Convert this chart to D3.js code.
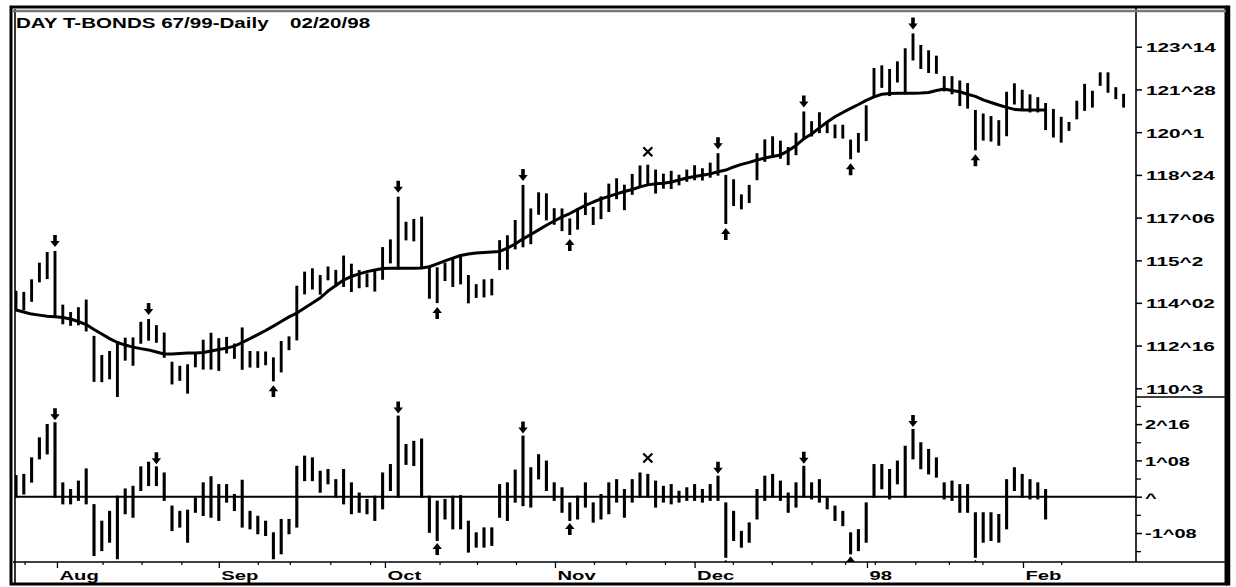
<!DOCTYPE html>
<html><head><meta charset="utf-8">
<script src="https://cdn.jsdelivr.net/npm/d3@7"></script>
<style>
body{margin:0;background:#fff}
svg{display:block}
text{font-family:"Liberation Sans",Arial,sans-serif;font-weight:bold;fill:#000}
</style>
</head><body>
<svg id="c" width="1236" height="587"></svg>
<script>
// ---- data ----
const high=[113.86,113.82,114.31,114.96,115.38,115.42,113.32,113.03,113.22,113.52,
112.10,111.35,111.51,111.88,112.03,112.04,112.65,112.76,112.52,112.23,
111.09,110.93,110.99,111.41,111.95,112.22,112.01,112.06,111.80,112.43,
111.51,111.50,111.49,111.26,111.90,112.08,114.06,114.61,114.74,114.48,
114.81,114.68,115.24,114.92,114.67,114.54,114.71,115.57,115.87,117.54,
116.56,116.67,116.76,114.84,114.78,114.96,115.18,115.30,114.48,114.12,
114.31,114.33,115.84,116.03,116.63,118.00,117.08,117.71,117.67,117.09,
117.08,116.69,117.08,117.70,117.14,117.55,118.05,118.26,118.01,118.43,
118.76,118.79,118.60,118.44,118.55,118.40,118.60,118.77,118.65,118.87,
119.24,118.39,118.22,117.63,118.00,119.24,119.78,119.90,119.73,119.48,
120.04,120.87,120.49,120.84,120.44,120.36,120.35,119.77,120.03,121.11,
122.57,122.67,122.53,122.83,123.34,123.92,123.47,123.26,123.05,122.25,
122.25,122.08,121.98,120.93,120.79,120.69,120.53,121.64,121.97,121.72,
121.54,121.43,121.20,120.97,120.66,120.46,121.29,121.95,121.68,122.40,
122.40,121.82,121.56];
const low=[113.15,113.18,113.51,114.27,114.40,112.89,112.63,112.57,112.59,112.35,
110.38,110.37,110.48,109.76,111.21,111.01,111.87,111.99,111.91,111.32,
110.28,110.42,109.92,110.95,110.86,110.86,110.81,111.49,111.28,110.85,
110.94,110.93,111.03,110.40,110.75,111.62,112.00,113.80,113.99,113.79,
114.35,114.11,114.09,113.89,114.04,114.08,113.91,114.37,115.01,114.78,
115.91,115.87,114.79,113.63,113.46,114.32,114.09,114.19,113.45,113.66,
113.68,113.76,114.75,114.77,115.56,115.64,115.76,116.91,116.69,116.52,
116.27,116.12,116.33,116.90,116.51,116.74,117.02,117.52,117.09,117.69,
117.96,118.04,117.74,117.93,117.92,118.06,118.20,118.26,118.25,118.36,
118.44,116.55,117.25,117.12,117.37,118.26,118.98,119.15,119.10,118.85,
119.24,119.84,119.97,120.10,120.10,119.90,119.89,119.08,119.34,119.79,
121.48,121.87,121.55,122.08,121.62,122.94,122.61,122.45,122.42,121.73,
121.62,121.16,121.06,119.43,119.81,119.77,119.61,119.98,121.22,120.97,
120.91,120.91,120.22,119.93,119.73,120.19,120.64,120.97,121.10,121.95,
121.68,121.43,121.10];
const ma=[113.15,113.07,112.99,112.95,112.91,112.89,112.86,112.80,112.70,112.58,
112.39,112.21,112.03,111.88,111.78,111.70,111.64,111.59,111.51,111.43,
111.43,111.45,111.47,111.47,111.49,111.55,111.61,111.66,111.74,111.88,
112.03,112.19,112.35,112.52,112.70,112.88,113.03,113.23,113.42,113.62,
113.89,114.11,114.32,114.46,114.56,114.65,114.71,114.77,114.78,114.78,
114.78,114.78,114.79,114.84,114.95,115.07,115.18,115.28,115.34,115.38,
115.40,115.42,115.44,115.57,115.73,115.93,116.10,116.28,116.46,116.63,
116.79,116.92,117.08,117.24,117.37,117.49,117.59,117.69,117.78,117.86,
117.96,118.04,118.08,118.10,118.15,118.23,118.31,118.37,118.42,118.47,
118.55,118.62,118.74,118.84,118.92,119.01,119.09,119.15,119.21,119.37,
119.58,119.84,120.03,120.27,120.50,120.70,120.87,121.03,121.18,121.34,
121.48,121.58,121.61,121.62,121.62,121.62,121.63,121.65,121.73,121.79,
121.73,121.68,121.58,121.50,121.36,121.26,121.16,121.07,120.99,120.97,
120.97,120.97,120.97];
const priceTicks=[123.44,121.77,120.10,118.43,116.76,115.09,113.43,111.76,110.09];
const priceLabels=["123^14","121^28","120^1","118^24","117^06","115^2","114^02","112^16","110^3"];
const oscTicks=[2.5,1.25,0,-1.25];
const oscLabels=["2^16","1^08","^","-1^08"];
const oscMinorTicks=[3.125,1.875,0.625,-0.625,-1.875];
const monthLabels=["Aug","Sep","Oct","Nov","Dec","98","Feb"];
const monthPos=[5.25,26,47.3,69.1,87,109.1,129.1];
const weekPos=[1.1,11.1,16.1,21.2,31,35.1,40.3,45.4,54.3,59.1,64.1,74.1,78.2,83.2,91.9,96.9,102,106.3,110.1,115.3,119.6,123.9,134];
const sellBars=[5,17,49,65,90,101,115];
const buyBars=[13,33,54,71,91,107,123];
const oscSellBars=[5,18,49,65,90,101,115];
const oscBuyBars=[13,33,54,71,91,107,123];
const xMarkBars=[81];
const title1="DAY T-BONDS 67/99-Daily", title2="02/20/98";

// ---- layout ----
const svg=d3.select("#c");
const L=15, R=1136, UT=12, UB=397, LB=562;
const x=d3.scaleLinear().domain([0,142]).range([16,1123.6]);
const yP=d3.scaleLinear().domain([110.09,123.44]).range([388.3,46.7]);
const yO=d3.scaleLinear().domain([-1.25,1.25]).range([533,460.4]);

const defs=svg.append("defs");
defs.append("clipPath").attr("id","cu").append("rect").attr("x",L).attr("y",UT).attr("width",R-L).attr("height",UB-UT);
defs.append("clipPath").attr("id","cl").append("rect").attr("x",L).attr("y",UB).attr("width",R-L).attr("height",LB-UB);

const idx=d3.range(high.length);
const oscIdx=d3.range(ma.length);
const oscH=i=>high[i]-ma[i], oscL=i=>low[i]-ma[i];

function downArrow(cx,tip){return `M${cx-1.8},${tip-12}h3.6v6h2.9L${cx},${tip}L${cx-4.7},${tip-6}h2.9z`;}
function upArrow(cx,tip){return `M${cx-1.8},${tip+12}h3.6v-6h2.9L${cx},${tip}L${cx-4.7},${tip+6}h2.9z`;}
function xMark(cx,cy){return `M${cx-4.5},${cy-4.5}L${cx+4.5},${cy+4.5}M${cx+4.5},${cy-4.5}L${cx-4.5},${cy+4.5}`;}

// upper panel
const gu=svg.append("g").attr("clip-path","url(#cu)");
gu.selectAll("line.bar").data(idx).join("line")
 .attr("x1",i=>x(i)).attr("x2",i=>x(i))
 .attr("y1",i=>yP(high[i])-1).attr("y2",i=>yP(low[i])+1)
 .attr("stroke","#000").attr("stroke-width",2.9);
gu.append("path").datum(oscIdx)
 .attr("d",d3.line().x(i=>x(i)).y(i=>yP(ma[i])))
 .attr("fill","none").attr("stroke","#000").attr("stroke-width",3).attr("stroke-linejoin","round");
gu.selectAll("path.sell").data(sellBars).join("path").attr("class","sell")
 .attr("d",i=>downArrow(x(i),yP(high[i])-5)).attr("fill","#000");
gu.selectAll("path.buy").data(buyBars).join("path").attr("class","buy")
 .attr("d",i=>upArrow(x(i),yP(low[i])+5)).attr("fill","#000");
gu.selectAll("path.xm").data(xMarkBars).join("path").attr("class","xm")
 .attr("d",i=>xMark(x(i),yP(high[i])-14))
 .attr("stroke","#000").attr("stroke-width",2.2).attr("fill","none");

// lower panel
const gl=svg.append("g").attr("clip-path","url(#cl)");
gl.append("line").attr("x1",L).attr("x2",R).attr("y1",yO(0)).attr("y2",yO(0)).attr("stroke","#000").attr("stroke-width",2);
gl.selectAll("line.ob").data(oscIdx).join("line").attr("class","ob")
 .attr("x1",i=>x(i)).attr("x2",i=>x(i))
 .attr("y1",i=>yO(oscH(i))-1).attr("y2",i=>yO(oscL(i))+1)
 .attr("stroke","#000").attr("stroke-width",3.1);
gl.selectAll("path.sell").data(oscSellBars).join("path").attr("class","sell")
 .attr("d",i=>downArrow(x(i),yO(oscH(i))-3)).attr("fill","#000");
gl.selectAll("path.buy").data(oscBuyBars).join("path").attr("class","buy")
 .attr("d",i=>upArrow(x(i),yO(oscL(i))+3)).attr("fill","#000");
gl.selectAll("path.xm").data(xMarkBars).join("path").attr("class","xm")
 .attr("d",i=>xMark(x(i),yO(oscH(i))-17))
 .attr("stroke","#000").attr("stroke-width",2.2).attr("fill","none");

// axes
const SX=1.54;
const ay=svg.append("g").attr("transform",`translate(${R},0)`)
 .call(d3.axisRight(yP).tickValues(priceTicks).tickFormat((d,i)=>priceLabels[i]).tickSize(6).tickPadding(4));
ay.select(".domain").remove();
ay.selectAll("line").attr("stroke","#000").attr("stroke-width",1.5);
ay.selectAll("text").attr("font-size",13.5).attr("x",10/SX).attr("dy","0.36em").attr("transform",`scale(${SX},1)`);

const ao=svg.append("g").attr("transform",`translate(${R},0)`)
 .call(d3.axisRight(yO).tickValues(oscTicks).tickFormat((d,i)=>oscLabels[i]).tickSize(6).tickPadding(4));
ao.select(".domain").remove();
ao.selectAll("line").attr("stroke","#000").attr("stroke-width",1.5);
ao.selectAll("text").attr("font-size",13.5).attr("x",9/1.48).attr("dy","0.36em").attr("transform","scale(1.48,1)");
const am=svg.append("g").attr("transform",`translate(${R},0)`)
 .call(d3.axisRight(yO).tickValues(oscMinorTicks).tickFormat("").tickSize(5));
am.select(".domain").remove();
am.selectAll("line").attr("stroke","#000").attr("stroke-width",1.3);

const ax=svg.append("g").attr("transform",`translate(0,${LB})`)
 .call(d3.axisBottom(x).tickValues(monthPos).tickFormat((d,i)=>monthLabels[i]).tickSize(6).tickPadding(0));
ax.select(".domain").remove();
ax.selectAll("line").attr("stroke","#000").attr("stroke-width",1.3);
ax.selectAll("text").attr("font-size",12.5).attr("text-anchor","start").attr("x",2/1.62).attr("y",18).attr("dy",0).attr("transform","scale(1.62,1)");
const aw=svg.append("g").attr("transform",`translate(0,${LB})`)
 .call(d3.axisBottom(x).tickValues(weekPos).tickFormat("").tickSize(3));
aw.select(".domain").remove();
aw.selectAll("line").attr("stroke","#000").attr("stroke-width",1.2);

// frame lines
const ln=(x1,y1,x2,y2,w,c)=>svg.append("line").attr("x1",x1).attr("y1",y1).attr("x2",x2).attr("y2",y2).attr("stroke",c||"#000").attr("stroke-width",w);
ln(R,8,R,LB,1.6);
ln(R,UB,1226,UB,1.6);
ln(13,LB,1226,LB,1.6);
svg.append("rect").attr("x",11).attr("y",7).attr("width",1215).attr("height",577).attr("fill","none").attr("stroke","#000").attr("stroke-width",3);
ln(1228,5.5,1228,585.5,4.5);
ln(15,9,15,585,1.6);
ln(12,11,1226,11,2.5,"#777");

// title
svg.append("text").attr("transform","translate(16,28) scale(1.47,1)").attr("font-size",14).text(title1);
svg.append("text").attr("transform","translate(290,28) scale(1.47,1)").attr("font-size",14).text(title2);
</script>
</body></html>
